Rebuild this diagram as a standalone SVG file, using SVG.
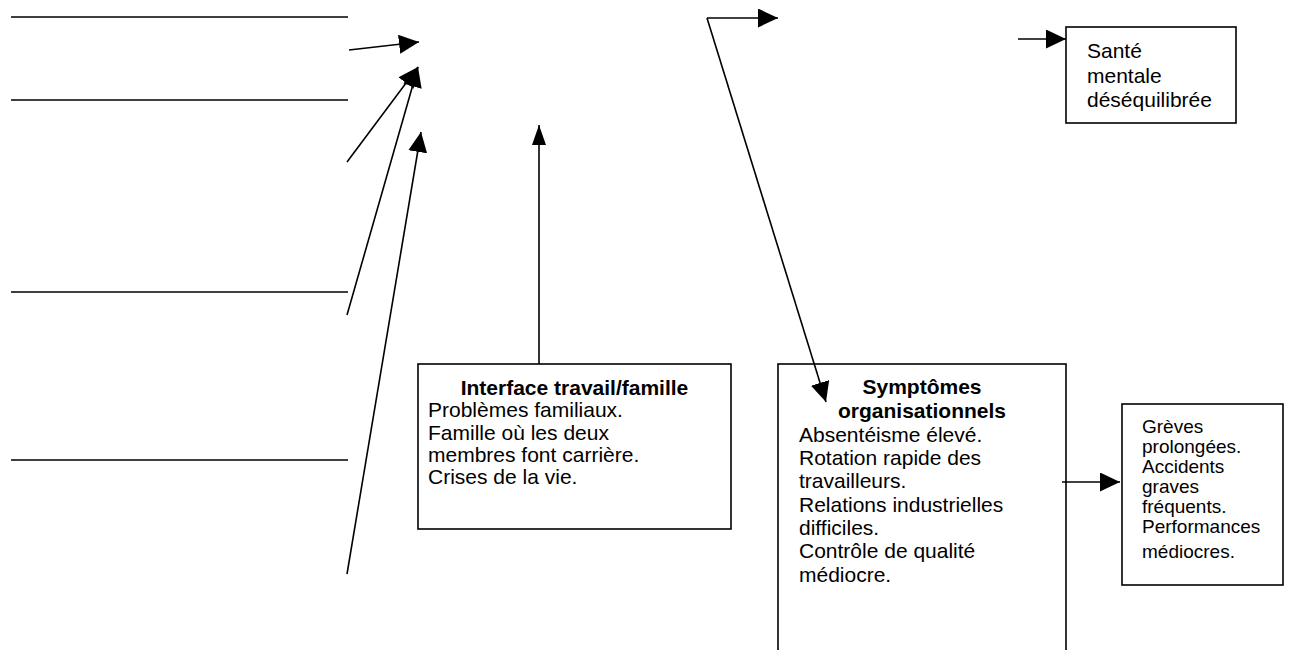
<svg xmlns="http://www.w3.org/2000/svg" width="1290" height="650" viewBox="0 0 1290 650">
<style>
.ln{stroke:#000;stroke-width:1.6;fill:none}
.ar{stroke:#000;stroke-width:1.6;fill:none;marker-end:url(#ah)}
.arn{stroke:#000;stroke-width:1.6;fill:none;marker-end:url(#ahn)}
.box{fill:#fff;stroke:#000;stroke-width:1.6}
text{font-family:"Liberation Sans",Arial,sans-serif;fill:#000}
.t{font-size:21px}
.b{font-size:21px;font-weight:bold}
.s{font-size:19px}
</style>
<defs>
<marker id="ah" markerUnits="userSpaceOnUse" markerWidth="20" markerHeight="19" refX="20" refY="9.5" orient="auto">
<path d="M0,0 L20,9.5 L0,19 z" fill="#000"/>
</marker>
<marker id="ahn" markerUnits="userSpaceOnUse" markerWidth="20" markerHeight="14" refX="20" refY="7" orient="auto">
<path d="M0,0 L20,7 L0,14 z" fill="#000"/>
</marker>
</defs>
<g id="lines">
<line class="ln" x1="11" y1="17" x2="348" y2="17"/>
<line class="ln" x1="11" y1="100" x2="348" y2="100"/>
<line class="ln" x1="11" y1="292" x2="348" y2="292"/>
<line class="ln" x1="11" y1="460" x2="348" y2="460"/>
</g>
<g id="sante">
<rect class="box" x="1066" y="27" width="170" height="96"/>
<text class="t" x="1087" y="58">Santé</text>
<text class="t" x="1087" y="83">mentale</text>
<text class="t" x="1087" y="107">déséquilibrée</text>
</g>
<g id="interface">
<rect class="box" x="418" y="364" width="313" height="165"/>
<text class="b" x="574.5" y="395" text-anchor="middle">Interface travail/famille</text>
<text class="t" x="428" y="417">Problèmes familiaux.</text>
<text class="t" x="428" y="440">Famille où les deux</text>
<text class="t" x="428" y="462">membres font carrière.</text>
<text class="t" x="428" y="484">Crises de la vie.</text>
</g>
<g id="symptomes">
<rect class="box" x="778" y="364" width="288" height="300"/>
<text class="b" x="922" y="394" text-anchor="middle">Symptômes</text>
<text class="b" x="922" y="418" text-anchor="middle">organisationnels</text>
<text class="t" x="799" y="442">Absentéisme élevé.</text>
<text class="t" x="799" y="465">Rotation rapide des</text>
<text class="t" x="799" y="488">travailleurs.</text>
<text class="t" x="799" y="512">Relations industrielles</text>
<text class="t" x="799" y="535">difficiles.</text>
<text class="t" x="799" y="558">Contrôle de qualité</text>
<text class="t" x="799" y="582">médiocre.</text>
</g>
<g id="greves">
<rect class="box" x="1122" y="404" width="161" height="181"/>
<text class="s" x="1142" y="433">Grèves</text>
<text class="s" x="1142" y="453">prolongées.</text>
<text class="s" x="1142" y="473">Accidents</text>
<text class="s" x="1142" y="493">graves</text>
<text class="s" x="1142" y="513">fréquents.</text>
<text class="s" x="1142" y="533">Performances</text>
<text class="s" x="1142" y="558">médiocres.</text>
</g>
<g id="connectors">
<line class="ar" x1="349" y1="50" x2="419" y2="42"/>
<line class="ar" x1="347" y1="162" x2="418" y2="67"/>
<line class="ar" x1="347" y1="315" x2="418" y2="67"/>
<line class="ar" x1="347" y1="574" x2="421" y2="132"/>
<line class="arn" x1="539" y1="364" x2="539" y2="125"/>
<line class="ar" x1="707" y1="18" x2="778" y2="18"/>
<line class="ar" x1="707" y1="18" x2="826" y2="402"/>
<line class="ar" x1="1018" y1="39" x2="1066" y2="39"/>
<line class="ar" x1="1062" y1="482" x2="1120" y2="482"/>
</g>
</svg>
